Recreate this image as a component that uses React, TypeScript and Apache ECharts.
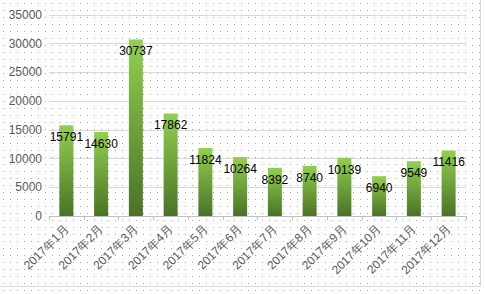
import React, { useEffect, useRef } from "react";
import * as echarts from "echarts";

const categories = [
  "2017年1月", "2017年2月", "2017年3月", "2017年4月", "2017年5月", "2017年6月",
  "2017年7月", "2017年8月", "2017年9月", "2017年10月", "2017年11月", "2017年12月",
];
const values = [15791, 14630, 30737, 17862, 11824, 10264, 8392, 8740, 10139, 6940, 9549, 11416];
const yMax = 35000;
const yInterval = 5000;

export default function App() {
  const ref = useRef<HTMLDivElement>(null);
  useEffect(() => {
    document.body.style.margin = "0";
    const chart = echarts.init(ref.current!, undefined, { renderer: "svg" });
    chart.setOption({
      animation: false,
      backgroundColor: "transparent",
      textStyle: { fontFamily: "Liberation Sans" },
      grid: { left: 49, right: 19, top: 15, bottom: 78, containLabel: false },
      xAxis: {
        type: "category",
        data: categories,
        axisLine: { show: true, lineStyle: { color: "#bfbfbf", width: 1 } },
        axisTick: { show: true, length: 4, lineStyle: { color: "#bfbfbf" } },
        axisLabel: { rotate: 45, color: "#595959", fontSize: 12, margin: 11, interval: 0 },
      },
      yAxis: {
        type: "value",
        min: 0,
        max: yMax,
        interval: yInterval,
        axisLine: { show: false },
        axisTick: { show: false },
        axisLabel: { color: "#595959", fontSize: 12, margin: 7, formatter: (v: number) => String(v) },
        splitLine: { lineStyle: { color: "#d9d9d9", width: 1 } },
      },
      series: [
        {
          type: "bar",
          data: values,
          barWidth: 14,
          itemStyle: {
            color: new echarts.graphic.LinearGradient(0, 0, 0, 1, [
              { offset: 0, color: "#92d050" },
              { offset: 1, color: "#4a7326" },
            ]),
          },
          label: {
            show: true,
            position: "insideTop",
            distance: 6,
            color: "#000000",
            fontSize: 12,
          },
        },
      ],
      graphic: [
        { type: "line", shape: { x1: 480.5, y1: 0, x2: 480.5, y2: 286.5 }, style: { stroke: "#d9d9d9", lineWidth: 1 } },
        { type: "line", shape: { x1: 0, y1: 286.5, x2: 480.5, y2: 286.5 }, style: { stroke: "#d9d9d9", lineWidth: 1 } },
      ],
    });
    return () => chart.dispose();
  }, []);
  return (
    <div
      ref={ref}
      style={{
        width: 485,
        height: 294,
        backgroundColor: "#ffffff",
        backgroundImage: "radial-gradient(circle, #a6a6a6 0.6px, transparent 0.9px)",
        backgroundSize: "7px 7px",
      }}
    />
  );
}
